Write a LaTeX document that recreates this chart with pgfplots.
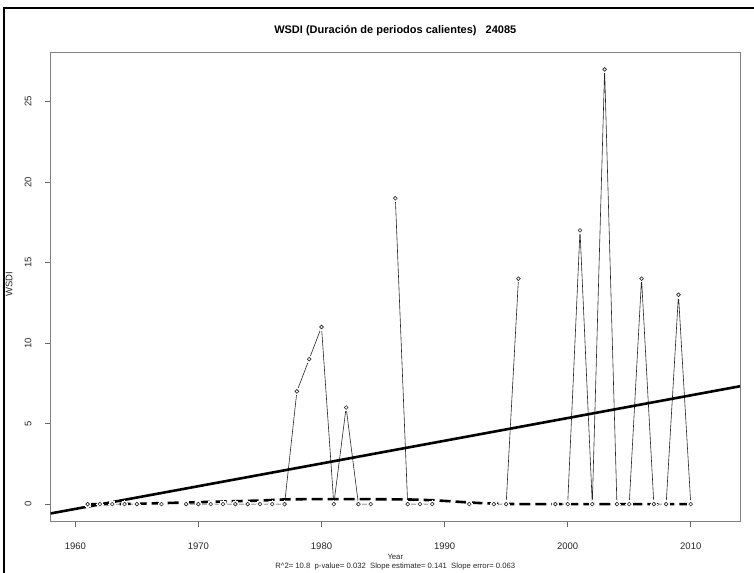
\documentclass[border=0pt]{standalone}
\usepackage{fontspec}
\setmainfont{Liberation Sans}
\usepackage{pgfplots}
\pgfplotsset{compat=1.18}
\usepackage{pgfplotstable}

\pgfplotstableread{
year wsdi
1961 0
1962 0
1963 0
1964 0
1965 0
1966 nan
1967 0
1968 nan
1969 0
1970 0
1971 0
1972 0
1973 0
1974 0
1975 0
1976 0
1977 0
1978 7
1979 9
1980 11
1981 0
1982 6
1983 0
1984 0
1985 nan
1986 19
1987 0
1988 0
1989 0
1990 nan
1991 nan
1992 0
1993 nan
1994 0
1995 0
1996 14
1997 nan
1998 nan
1999 0
2000 0
2001 17
2002 0
2003 27
2004 0
2005 0
2006 14
2007 0
2008 0
2009 13
2010 0
}\wsditable

\pgfplotstableread{
year lw
1961 0.00
1963 0.00
1965 0.02
1967 0.06
1969 0.10
1971 0.14
1973 0.18
1975 0.22
1977 0.29
1979 0.31
1981 0.31
1983 0.31
1985 0.30
1987 0.29
1988 0.27
1989 0.24
1990 0.20
1991 0.15
1992 0.10
1993 0.06
1994 0.03
1995 0.01
1996 0.00
2000 0.00
2005 0.00
2010 0.00
}\lowesstable

\pgfplotstableread{
year trend
1958 -0.58
2014 7.32
}\trendtable

\begin{document}
\begin{tikzpicture}[x=1bp,y=1bp]
\useasboundingbox (0,0) rectangle (754,573);
\draw[line width=2bp] (4,0) -- (4,565) -- (754,565);
\begin{axis}[
  at={(50.7bp,51.5bp)}, anchor=south west,
  scale only axis, width=689.3bp, height=469.5bp,
  xmin=1958, xmax=2014, ymin=-1.08, ymax=28.08,
  xtick={1960,1970,1980,1990,2000,2010},
  ytick={0,5,10,15,20,25},
  tick pos=left, tick align=outside, major tick length=6bp,
  axis line style={black!50, line width=0.8bp},
  every tick/.style={black!60, line width=0.8bp},
  /pgf/number format/assume math mode=true,
  /pgf/number format/1000 sep={},
  ticklabel style={font=\fontsize{9.5bp}{11bp}\selectfont, text=black!85},
  xticklabel style={anchor=north, inner sep=0pt},
  yticklabel style={rotate=90, anchor=south, inner sep=0pt},
  xticklabel shift=15bp,
  yticklabel shift=13bp,
  unbounded coords=jump,
  clip=true,
]
\addplot[black!85, line width=0.6bp] table[x=year, y=wsdi] {\wsditable};
\addplot[only marks, mark=*, mark size=3.3bp, mark options={fill=white, draw=white, line width=0pt}] table[x=year, y=wsdi] {\wsditable};
\addplot[only marks, mark=o, mark size=1.9bp, mark options={black!85, line width=0.6bp}] table[x=year, y=wsdi] {\wsditable};
\addplot[black, line width=2.6bp] table[x=year, y=trend] {\trendtable};
\addplot[black, line width=2.6bp, dash pattern=on 11bp off 5bp] table[x=year, y=lw] {\lowesstable};
\end{axis}
\node[font=\bfseries\fontsize{11bp}{13bp}\selectfont] at (395.3,542) {WSDI (Duración de periodos calientes)~~~24085};
\node[rotate=90, font=\fontsize{9.5bp}{11bp}\selectfont, text=black!85] at (9,289) {WSDI};
\node[font=\fontsize{7.7bp}{9bp}\selectfont, text=black!85] at (395.3,16) {Year};
\node[font=\fontsize{7.7bp}{9bp}\selectfont, text=black!85] at (395.3,6.5) {R\textasciicircum 2= 10.8~~p-value= 0.032~~Slope estimate= 0.141~~Slope error= 0.063};
\end{tikzpicture}
\end{document}
